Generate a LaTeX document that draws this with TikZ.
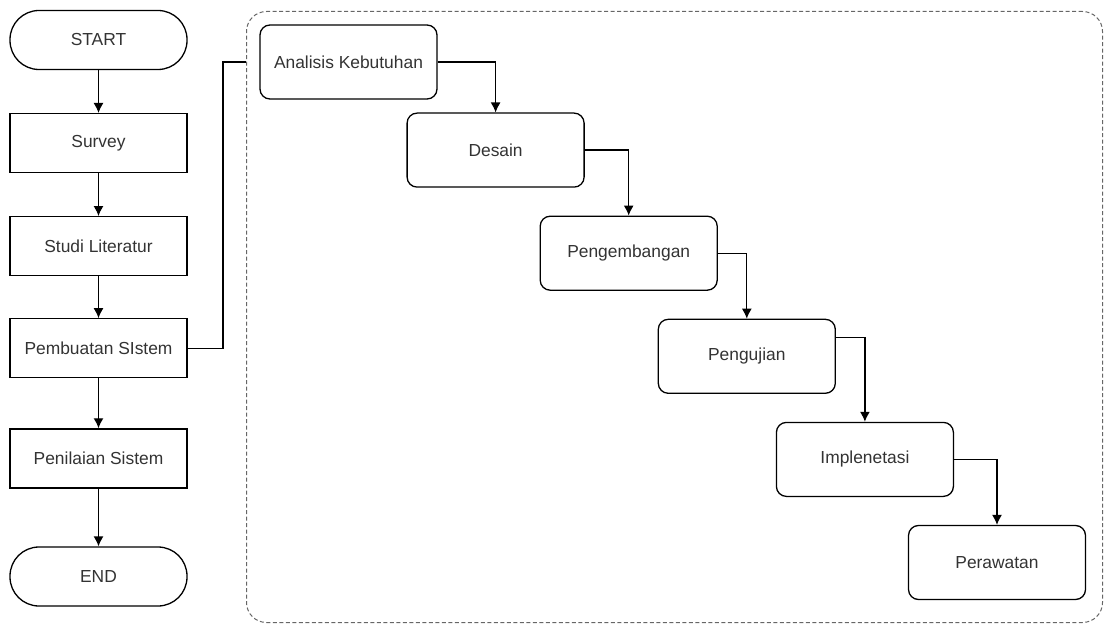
\documentclass[tikz,border=0pt]{standalone}
\usepackage{fontspec}
\setmainfont{Liberation Sans}
\usetikzlibrary{shapes,arrows,arrows.meta,positioning}

\begin{document}
\begin{tikzpicture}[node distance=42.8pt, auto, font=\fontsize{17.4}{20}\selectfont, text=black!80]
    \tikzstyle{terminal} = [rectangle, draw, rounded corners=29pt, minimum width=177pt, minimum height=59pt, line width=1.3pt, text centered]
    \tikzstyle{block} = [rectangle, draw, minimum width=177pt, minimum height=59pt, line width=1.3pt, text centered]
    \tikzstyle{phase} = [rectangle, draw, rounded corners=10pt, minimum width=177pt, minimum height=74pt, line width=1.3pt, text centered]
    \tikzstyle{container} = [rectangle, draw=black!60, dash pattern=on 4pt off 2.5pt, line width=1pt, rounded corners=20pt, minimum width=856pt, minimum height=611pt, anchor=north west]
    \tikzstyle{line} = [draw, line width=1.3pt, -{Latex[length=10pt, width=10pt]}]

    \useasboundingbox (0,0) rectangle (1105pt,-628pt);

    % alur penelitian
    \node[terminal] at (98.5pt,-40pt) (start) {START};
    \node[block, below=of start] (survey) {Survey};
    \node[block, below=of survey] (studi) {Studi Literatur};
    \node[block, below=41.8pt of studi] (buat) {Pembuatan SIstem};
    \node[block, below=49.8pt of buat] (nilai) {Penilaian Sistem};
    \node[terminal, below=57.8pt of nilai] (end) {END};

    % waterfall
    \node[container] at (246pt,-11pt) (waterfall) {};
    \node[phase] at (348.5pt,-62pt) (analisis) {Analisis Kebutuhan};
    \node[phase, below right=12.8pt and -31.2pt of analisis] (desain) {Desain};
    \node[phase, below right=27.8pt and -45.2pt of desain] (kembang) {Pengembangan};
    \node[phase, below right=27.8pt and -60.2pt of kembang] (uji) {Pengujian};
    \node[phase, below right=27.8pt and -60.2pt of uji] (implementasi) {Implenetasi};
    \node[phase, below right=27.8pt and -46.2pt of implementasi] (rawat) {Perawatan};

    \coordinate (entry) at (waterfall.west |- analisis.west);

    \path[line] (start) -- (survey);
    \path[line] (survey) -- (studi);
    \path[line] (studi) -- (buat);
    \path[line] (buat) -- (nilai);
    \path[line] (nilai) -- (end);
    \draw[line width=1.3pt] (buat.east) -| ([xshift=-23pt]entry) -- (entry);

    \path[line] (analisis.east) -| (desain.north);
    \path[line] (desain.east) -| (kembang.north);
    \path[line] (kembang.east) -| (uji.north);
    \path[line] ([yshift=19pt]uji.east) -| (implementasi.north);
    \path[line] (implementasi.east) -| (rawat.north);
\end{tikzpicture}
\end{document}
